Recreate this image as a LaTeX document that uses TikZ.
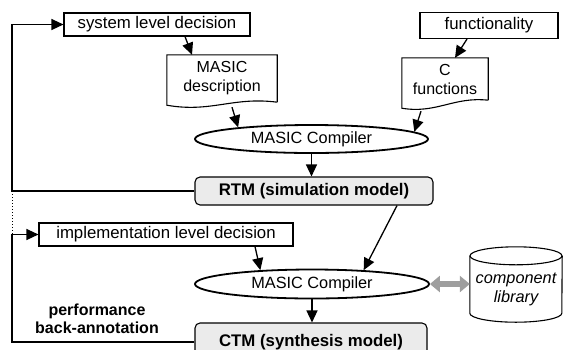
\documentclass[tikz,border=0pt]{standalone}
\usepackage{fontspec}
\setmainfont{Liberation Sans}
\usetikzlibrary{arrows.meta,calc,shapes.geometric}

% document shape: box with a wavy lower edge, drawn around a named node
% #1 node, #2 drop of the lower left corner, #3 drop of the lower right corner
\newcommand\docoutline[3]{%
  \draw[boxline] ([yshift=-#3]#1.south east) -- (#1.north east) -- (#1.north west)
    -- ([yshift=-#2]#1.south west)
    .. controls ($([yshift=-#2]#1.south west)!0.4!([yshift=-#3]#1.south east)+(0pt,-9pt)$)
    and ($([yshift=-#2]#1.south west)!0.6!([yshift=-#3]#1.south east)+(0pt,7pt)$)
    .. ([yshift=-#3]#1.south east);}

\begin{document}
\begin{tikzpicture}[x=1pt,y=-1pt,
  txt/.style={font=\fontsize{16.8}{19}\selectfont, align=center, inner sep=0pt},
  boxline/.style={line width=1.1pt},
  plainbox/.style={txt, draw, boxline, minimum height=23pt},
  docnode/.style={txt, font=\fontsize{16}{19}\selectfont},
  model/.style={txt, font=\fontsize{16.8}{19}\selectfont\bfseries, draw, boxline,
    fill=black!8, rounded corners=5pt},
  compiler/.style={txt, font=\fontsize{16.3}{19}\selectfont, draw, ellipse, line width=1.8pt,
    minimum width=233pt, minimum height=28pt},
  flow/.style={line width=1.3pt, -{Triangle[length=12pt,width=11pt]}},
  libflow/.style={line width=6pt, draw=black!38,
    {Triangle[length=10pt,width=16pt]}-{Triangle[length=10pt,width=16pt]}},
]
\useasboundingbox (0,0) rectangle (564,349);
\clip (0,0) rectangle (564,349);

% inputs
\node[plainbox, minimum width=186pt] (sld) at (157,24.5) {system level decision};
\node[plainbox, minimum width=138pt, minimum height=26pt] (func) at (489,25.5) {functionality};
\node[docnode, minimum width=110pt, minimum height=46pt] (desc) at (222,78) {MASIC\\description};
\node[docnode, minimum width=86pt, minimum height=42pt] (cfun) at (445,79) {C\\functions};
\docoutline{desc}{4pt}{1pt}
\docoutline{cfun}{8pt}{0pt}

% first compilation
\node[compiler] (cc1) at (311.5,139) {MASIC Compiler};
\node[model, minimum width=238pt, minimum height=28pt] (rtm) at (314,191) {RTM (simulation model)};

% second compilation
\node[plainbox, minimum width=254pt] (ild) at (166,234.5) {implementation level decision};
\node[compiler, minimum width=234pt, minimum height=29pt] (cc2) at (312,284) {MASIC Compiler};
\node[model, minimum width=232pt, minimum height=38pt] (ctm) at (311,342) {CTM (synthesis model)};

% component library cylinder
\node[txt, font=\fontsize{16.3}{19}\selectfont\itshape, minimum width=92pt, minimum height=66pt]
  (lib) at (516,289) {component\\library};
\draw[boxline] (lib.north west) -- ([yshift=9pt]lib.south west)
  arc[start angle=180, end angle=360, x radius=46pt, y radius=9pt] -- (lib.north east);
\draw[boxline] (lib.north) ellipse [x radius=46pt, y radius=9pt];

\node[txt, font=\fontsize{16}{18}\selectfont\bfseries] (perf) at (97,319) {performance\\back-annotation};

% data flow
\draw[flow] ($(sld.south)+(28pt,0pt)$) -- ($(desc.north)+(-30pt,0pt)$);
\draw[flow] ($(func.south)+(-22pt,0pt)$) -- ($(cfun.north)+(10pt,0pt)$);
\draw[flow] ($(desc.south)+(10pt,-6pt)$) -- (cc1.171);
\draw[flow] ($(cfun.south)+(-24pt,-11pt)$) -- (cc1.4.5);
\draw[flow] (cc1.south) -- (cc1.south |- rtm.north);
\draw[flow] ($(rtm.south)+(83pt,0pt)$) -- (cc2.15);
\draw[flow] ($(ild.south)+(89pt,0pt)$) -- (cc2.165);
\draw[flow] (cc2.south) -- (cc2.south |- ctm.north);
\draw[libflow] (cc2.east) -- (cc2.east -| lib.west);

% feedback loops
\coordinate (lx) at (12,0);
\draw[flow] (rtm.west) -- (rtm.west -| lx) -- (sld.west -| lx) -- (sld.west);
\draw[line width=1pt, dotted] (rtm.west -| lx) -- (ild.west -| lx);
\draw[flow] (ctm.west) -- (ctm.west -| lx) -- (ild.west -| lx) -- (ild.west);
\end{tikzpicture}
\end{document}
